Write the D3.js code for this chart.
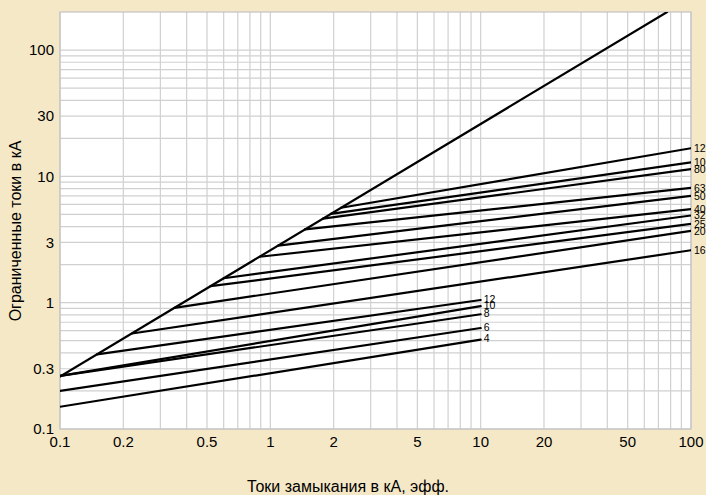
<!DOCTYPE html>
<html lang="ru">
<head>
<meta charset="UTF-8">
<title>Ограниченные токи</title>
<script src="https://d3js.org/d3.v7.min.js"></script>
<style>
  body { margin: 0; background: #f5e8c7; }
  svg { display: block; font-family: "Liberation Sans", Arial, sans-serif; }
</style>
</head>
<body>
<svg id="chart" width="706" height="495"></svg>
<script>
  // tick labels
  const xTicks = [0.1, 0.2, 0.5, 1, 2, 5, 10, 20, 50, 100];
  const yTicks = [0.1, 0.3, 1, 3, 10, 30, 100];

  // unlimited peak line (ends where it leaves the top)
  const capX = [0.1, 77];
  const capY = [0.26, 200];

  // large fuses, lines run to 100 kA
  const bigRatings = [125, 100, 80, 63, 50, 40, 32, 25, 20, 16];
  const bigStartX  = [2.17, 1.94, 1.78, 1.46, 1.09, 0.89, 0.60, 0.52, 0.35, 0.22];
  const bigStartY  = [5.64, 5.04, 4.63, 3.80, 2.83, 2.31, 1.56, 1.35, 0.91, 0.57];
  const bigEndY    = [16.7, 12.9, 11.4, 8.1, 7.0, 5.5, 4.9, 4.2, 3.7, 2.6];

  // small fuses, lines run to 10 kA
  const smallRatings = [12, 10, 8, 6, 4];
  const smallStartX  = [0.15, 0.1, 0.1, 0.1, 0.1];
  const smallStartY  = [0.39, 0.263, 0.263, 0.20, 0.15];
  const smallEndY    = [1.05, 0.94, 0.81, 0.63, 0.51];

  const svg = d3.select("#chart");
  const mLeft = 60, mRight = 691, mTop = 12, mBottom = 429;

  const x = d3.scaleLog().domain([0.1, 100]).range([mLeft, mRight]);
  const y = d3.scaleLog().domain([0.1, 200]).range([mBottom, mTop]);

  svg.append("rect")
    .attr("x", mLeft).attr("y", mTop)
    .attr("width", mRight - mLeft).attr("height", mBottom - mTop)
    .attr("fill", "#fff");

  // grid
  const minor = [];
  [0.1, 1, 10].forEach(d => { for (let k = 1; k < 10; k++) minor.push(+(k * d).toPrecision(3)); });
  minor.push(100);

  svg.append("g").selectAll("line").data(minor).join("line")
    .attr("x1", d => x(d)).attr("x2", d => x(d))
    .attr("y1", mTop).attr("y2", mBottom)
    .attr("stroke", "#d0d0d0").attr("stroke-width", 1.2);

  svg.append("g").selectAll("line").data(minor).join("line")
    .attr("x1", mLeft).attr("x2", mRight)
    .attr("y1", d => y(d)).attr("y2", d => y(d))
    .attr("stroke", "#d0d0d0").attr("stroke-width", 1.2);

  svg.append("rect")
    .attr("x", mLeft).attr("y", mTop)
    .attr("width", mRight - mLeft).attr("height", mBottom - mTop)
    .attr("fill", "none").attr("stroke", "#c4c4c4").attr("stroke-width", 1.2);

  svg.append("clipPath").attr("id", "plot")
    .append("rect").attr("x", mLeft).attr("y", mTop)
    .attr("width", mRight - mLeft).attr("height", mBottom - mTop);

  const lines = svg.append("g").attr("clip-path", "url(#plot)");
  const seg = d3.line().x(d => x(d[0])).y(d => y(d[1]));

  const segs = [[[capX[0], capY[0]], [capX[1], capY[1]]]];
  bigRatings.forEach((r, i) => segs.push([[bigStartX[i], bigStartY[i]], [100, bigEndY[i]]]));
  smallRatings.forEach((r, i) => segs.push([[smallStartX[i], smallStartY[i]], [10, smallEndY[i]]]));

  lines.selectAll("path").data(segs).join("path")
    .attr("d", seg)
    .attr("fill", "none")
    .attr("stroke", "#000")
    .attr("stroke-width", 2.2)
    .attr("stroke-linecap", "round");

  // rating labels (the page edge cuts the widest ones, as in the original)
  svg.append("g").selectAll("text").data(bigRatings).join("text")
    .attr("x", x(100) + 3)
    .attr("y", (d, i) => y(bigEndY[i]))
    .attr("dy", "0.35em")
    .attr("font-size", 10.5)
    .text(d => d);

  svg.append("g").selectAll("text").data(smallRatings).join("text")
    .attr("x", x(10) + 3)
    .attr("y", (d, i) => y(smallEndY[i]) - 1)
    .attr("dy", "0.35em")
    .attr("font-size", 10.5)
    .text(d => d);

  // tick labels
  svg.append("g").selectAll("text").data(xTicks).join("text")
    .attr("x", d => x(d))
    .attr("y", mBottom + 18)
    .attr("text-anchor", "middle")
    .attr("font-size", 15)
    .text(d => d);

  svg.append("g").selectAll("text").data(yTicks).join("text")
    .attr("x", mLeft - 6)
    .attr("y", d => y(d))
    .attr("dy", "0.35em")
    .attr("text-anchor", "end")
    .attr("font-size", 15)
    .text(d => d);

  // axis titles
  svg.append("text")
    .attr("x", 348).attr("y", 492)
    .attr("text-anchor", "middle")
    .attr("font-size", 16)
    .text("Токи замыкания в кА, эфф.");

  svg.append("text")
    .attr("transform", "translate(21,231) rotate(-90)")
    .attr("text-anchor", "middle")
    .attr("font-size", 16)
    .text("Ограниченные токи в кА");
</script>
</body>
</html>
